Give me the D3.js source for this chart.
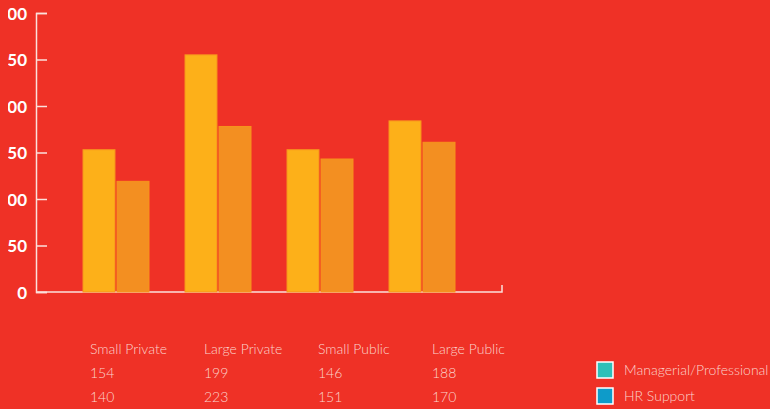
<!DOCTYPE html>
<html>
<head>
<meta charset="utf-8">
<script src="https://cdn.jsdelivr.net/npm/d3@7"></script>
<style>
  html, body { margin: 0; padding: 0; background: #EF3126; overflow: hidden; }
  svg { display: block; }
</style>
</head>
<body>
<svg id="chart"></svg>
<script>
(function() {

    // data
    const categories = ['Small Private', 'Large Private', 'Small Public', 'Large Public'];
    const seriesNames = ['Managerial/Professional', 'HR Support'];
    const managerialBars = [153, 255, 153, 184];
    const hrSupportBars = [119, 178, 143, 161];
    const tableRow1 = ['154', '199', '146', '188'];
    const tableRow2 = ['140', '223', '151', '170'];
    const yTicks = [0, 50, 100, 150, 200, 250, 300];

    const w = 770;
    const h = 409;
    const bg = '#EF3126';
    const barColors = ['#FDB019', '#F38F21'];
    const legendColors = ['#2EBFB8', '#0E9BC9'];
    const axisColor = '#FBE1DC';
    const softText = '#FBD3CC';

    const svg = d3.select('#chart')
        .attr('width', w)
        .attr('height', h);

    svg.append('rect')
        .attr('width', w)
        .attr('height', h)
        .attr('fill', bg);

    // the original crops the axis labels on the left
    svg.append('clipPath')
        .attr('id', 'crop')
        .append('rect')
        .attr('x', 8)
        .attr('y', 0)
        .attr('width', w)
        .attr('height', h);

    // Scales
    const scaleY = d3.scaleLinear().domain([0, 300]).range([292, 13]);
    const scaleX = d3.scaleBand().domain(categories).range([65, 473])
        .paddingInner(0.353).paddingOuter(0.1765);
    const scaleSeries = d3.scaleBand().domain([0, 1]).range([0, scaleX.bandwidth()]).paddingInner(0.06);

    // Y axis
    const yAxis = d3.axisRight(scaleY).tickValues(yTicks).tickSize(11).tickFormat(d3.format('d'));
    const gy = svg.append('g')
        .attr('clip-path', 'url(#crop)')
        .append('g')
        .attr('transform', 'translate(36, 0)')
        .call(yAxis);
    gy.select('.domain').attr('stroke', axisColor).attr('stroke-width', 1.5);
    gy.selectAll('.tick line').attr('stroke', axisColor).attr('stroke-width', 1.5);
    gy.selectAll('.tick text')
        .attr('x', -9)
        .attr('dy', '0.38em')
        .attr('text-anchor', 'end')
        .attr('fill', '#ffffff')
        .style('font-family', 'Lato, "Open Sans", sans-serif')
        .style('font-weight', 'bold')
        .style('font-size', '17px');

    // X axis line
    svg.append('path')
        .attr('d', `M36,${scaleY(0)}H502V${scaleY(0) - 7}`)
        .attr('fill', 'none')
        .attr('stroke', axisColor)
        .attr('stroke-width', 1.5);

    // Bars
    const rows = categories.map((c, i) => ({ cat: c, vals: [managerialBars[i], hrSupportBars[i]] }));
    const groups = svg.selectAll('.group')
        .data(rows)
        .enter().append('g')
        .attr('transform', d => `translate(${scaleX(d.cat)}, 0)`);

    groups.selectAll('rect')
        .data(d => d.vals)
        .enter().append('rect')
        .attr('x', (d, i) => scaleSeries(i))
        .attr('y', d => scaleY(d))
        .attr('width', scaleSeries.bandwidth())
        .attr('height', d => scaleY(0) - scaleY(d))
        .attr('fill', (d, i) => barColors[i])
        .attr('stroke', '#F7941D')
        .attr('stroke-width', 1);

    // Table under chart
    const tableX = d3.scalePoint().domain(categories).range([90, 432]);
    const tableFont = 'Lato, "Open Sans", sans-serif';
    [[categories, 354], [tableRow1, 378], [tableRow2, 402]].forEach(([row, y]) => {
        svg.append('g').selectAll('text')
            .data(row)
            .enter().append('text')
            .attr('x', (d, i) => tableX(categories[i]))
            .attr('y', y)
            .attr('fill', softText)
            .style('font-family', tableFont)
            .style('font-weight', 300)
            .style('font-size', '14px')
            .text(d => d);
    });

    // Legend
    const legend = svg.append('g').attr('transform', 'translate(597, 362)');
    const li = legend.selectAll('g')
        .data(seriesNames)
        .enter().append('g')
        .attr('transform', (d, i) => `translate(0, ${i * 26})`);
    li.append('rect')
        .attr('width', 16)
        .attr('height', 16)
        .attr('fill', (d, i) => legendColors[i])
        .attr('stroke', '#ffffff')
        .attr('stroke-width', 1.5);
    li.append('text')
        .attr('x', 27)
        .attr('y', 13)
        .attr('fill', softText)
        .style('font-family', tableFont)
        .style('font-weight', 300)
        .style('font-size', '14px')
        .text(d => d);

})();
</script>
</body>
</html>
